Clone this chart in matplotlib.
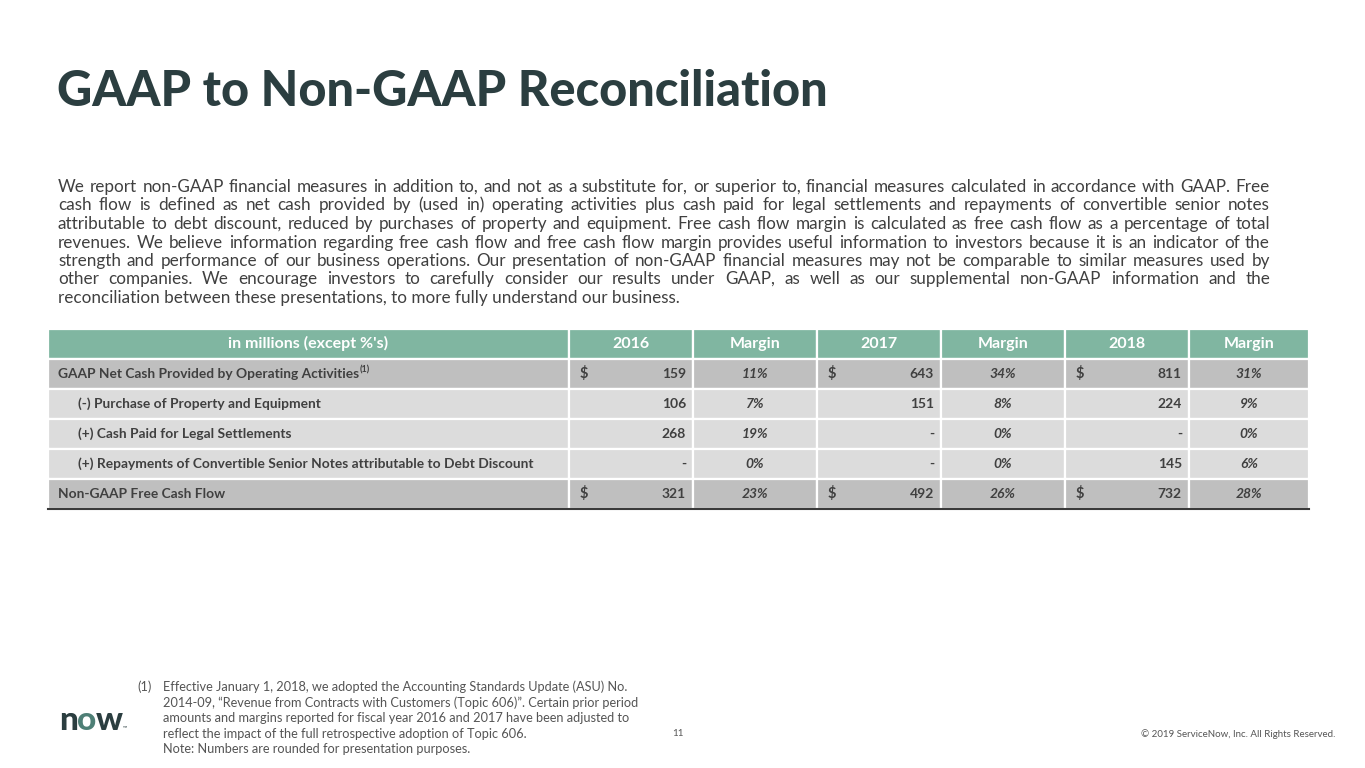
import matplotlib.pyplot as plt
from matplotlib.patches import Rectangle

plt.rcParams['font.family'] = ['Lato', 'DejaVu Sans']

title = "GAAP to Non-GAAP Reconciliation"
intro_lines = [
    "We report non-GAAP financial measures in addition to, and not as a substitute for, or superior to, financial measures calculated in accordance with GAAP.  Free",
    "cash flow is defined as net cash provided by (used in) operating activities plus cash paid for legal settlements and repayments of convertible senior notes",
    "attributable to debt discount, reduced by purchases of property and equipment. Free cash flow margin is calculated as free cash flow as a percentage of total",
    "revenues. We believe information regarding free cash flow and free cash flow margin provides useful information to investors because it is an indicator of the",
    "strength and performance of our business operations.  Our presentation of non-GAAP financial measures may not be comparable to similar measures used by",
    "other companies. We encourage investors to carefully consider our results under GAAP, as well as our supplemental non-GAAP information and the",
    "reconciliation between these presentations, to more fully understand our business.",
]

header_label = "in millions (except %'s)"
years = ["2016", "2017", "2018"]
row_labels = [
    "GAAP Net Cash Provided by Operating Activities",
    "(-) Purchase of Property and Equipment",
    "(+) Cash Paid for Legal Settlements",
    "(+) Repayments of Convertible Senior Notes attributable to Debt Discount",
    "Non-GAAP Free Cash Flow",
]
row_indent = [False, True, True, True, False]
row_dollar = [True, False, False, False, True]
values = {
    "2016": ["159", "106", "268", "-", "321"],
    "2017": ["643", "151", "-", "-", "492"],
    "2018": ["811", "224", "-", "145", "732"],
}
margins = {
    "2016": ["11%", "7%", "19%", "0%", "23%"],
    "2017": ["34%", "8%", "0%", "0%", "26%"],
    "2018": ["31%", "9%", "0%", "6%", "28%"],
}

footnote = [
    "Effective January 1, 2018, we adopted the Accounting Standards Update (ASU) No.",
    "2014-09, \u201cRevenue from Contracts with Customers (Topic 606)\u201d. Certain prior period",
    "amounts and margins reported for fiscal year 2016 and 2017 have been adjusted to",
    "reflect the impact of the full retrospective adoption of Topic 606.",
    "Note: Numbers are rounded for presentation purposes.",
]

dark = "#2B3E40"
text_gray = "#404040"
green = "#80B6A1"
row_dark = "#BFBFBF"
row_light = "#DCDCDC"

fig = plt.figure(figsize=(13.65, 7.68), dpi=100)
ax = fig.add_axes([0, 0, 1, 1])
ax.set_xlim(0, 1365)
ax.set_ylim(768, 0)
ax.axis('off')

ax.text(57, 92, title, fontsize=35, fontweight='black', color=dark, va='center', ha='left')

# justified paragraph (whole-pixel baselines so words on a line stay level)
renderer = fig.canvas.get_renderer()
left, right = 58, 1270
body_fs = 12.3
for i, line in enumerate(intro_lines):
    y = round(192 + i * 18.5) + 0.01
    words = line.split()
    if i == len(intro_lines) - 1:
        ax.text(left, y, line, fontsize=body_fs, color=text_gray, va='baseline', ha='left')
    else:
        items = [ax.text(0, y, w, fontsize=body_fs, color=text_gray, va='baseline', ha='left') for w in words]
        widths = [t.get_window_extent(renderer).width for t in items]
        gap = (right - left - sum(widths)) / (len(words) - 1)
        x = left
        for t, w in zip(items, widths):
            t.set_x(x)
            x += w + gap

# table
edges = [48, 569, 693, 817, 941, 1065, 1189, 1309]
top = 329
rh = 30.1
header_h = 29.5

def cell(x0, x1, y0, h, color):
    ax.add_patch(Rectangle((x0, y0), x1 - x0, h, facecolor=color, edgecolor='white', lw=1.6))

for c in range(len(edges) - 1):
    cell(edges[c], edges[c + 1], top, header_h, green)
heads = [header_label] + sum([[yr, "Margin"] for yr in years], [])
for c, h in enumerate(heads):
    ax.text((edges[c] + edges[c + 1]) / 2, top + header_h / 2, h, fontsize=11.5, fontweight='bold',
            color='white', ha='center', va='center')

for r, label in enumerate(row_labels):
    y0 = top + header_h + r * rh
    color = row_dark if row_dollar[r] else row_light
    for c in range(len(edges) - 1):
        cell(edges[c], edges[c + 1], y0, rh, color)
    yc = y0 + rh / 2
    lx = 78 if row_indent[r] else 58
    t = ax.text(lx, yc, label, fontsize=9.9, fontweight='bold', color=text_gray, ha='left', va='center')
    if r == 0:
        w = t.get_window_extent(renderer).width
        ax.text(lx + w + 1, yc - 4, "(1)", fontsize=6.5, fontweight='bold', color=text_gray,
                ha='left', va='center')
    for k, yr in enumerate(years):
        c0 = edges[1 + 2 * k]
        c1 = edges[2 + 2 * k]
        if row_dollar[r]:
            ax.text(c0 + 11, yc, "$", fontsize=10.5, fontweight='bold', color=text_gray, ha='left', va='center')
        ax.text(c1 - 7, yc, values[yr][r], fontsize=10, fontweight='bold', color=text_gray, ha='right', va='center')
        ax.text((c1 + edges[3 + 2 * k]) / 2, yc, margins[yr][r], fontsize=10, fontweight='bold',
                style='italic', color=text_gray, ha='center', va='center')

bottom = top + header_h + len(row_labels) * rh
ax.plot([edges[0], edges[-1]], [bottom, bottom], color="#3A3A3A", lw=1.5)

# footer
foot_fs = 9.2
ax.text(137, 687, "(1)", fontsize=foot_fs, color="#555555", ha='left', va='center')
for i, line in enumerate(footnote):
    ax.text(163, 687 + i * 15.6, line, fontsize=foot_fs, color="#555555", ha='left', va='center')
ax.text(672, 734, "11", fontsize=7, color="#555555", ha='left', va='center')
ax.text(1335, 734, "\u00a9 2019 ServiceNow, Inc. All Rights Reserved.", fontsize=7, color="#555555",
        ha='right', va='center')

# logo
ax.text(59, 721, "n", fontsize=24, fontweight='black', color=dark, ha='left', va='center')
ax.text(77, 721, "o", fontsize=24, fontweight='black', color="#4E7F76", ha='left', va='center')
ax.text(96, 721, "w", fontsize=24, fontweight='black', color=dark, ha='left', va='center')
ax.text(123, 728, "\u2122", fontsize=4, color=dark, ha='left', va='center')

fig.savefig("out.png", dpi=100)
